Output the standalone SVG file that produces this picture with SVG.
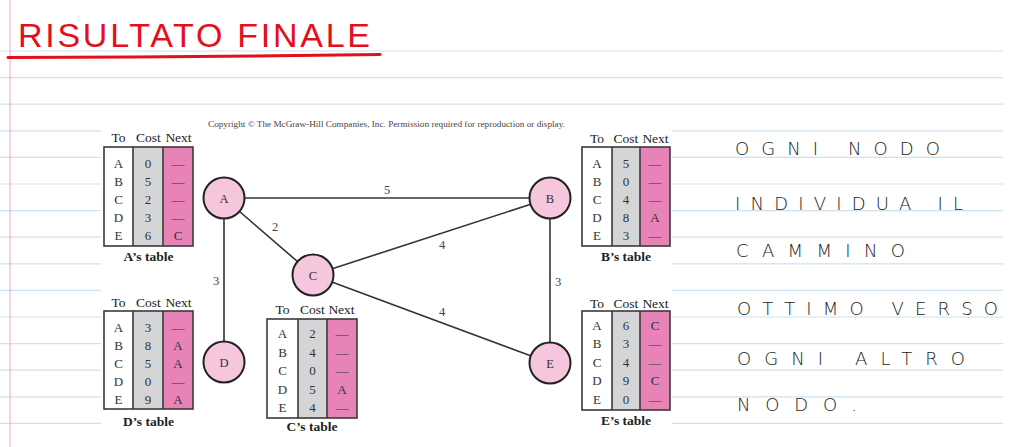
<svg xmlns="http://www.w3.org/2000/svg" width="1021" height="447" viewBox="0 0 1021 447">
<style>
.rule{stroke:#cfe1ee;stroke-width:1.2}
.margin{stroke:#eaa6c2;stroke-width:1}
.title{font-family:"Liberation Sans",Arial,sans-serif;font-size:34px;fill:#e3101c}
.hand{font-family:"DejaVu Sans","Liberation Sans",sans-serif;font-weight:200;font-size:18px;fill:#1a1a1a}
.copy{font-family:"Liberation Serif","Times New Roman",serif;font-size:7.5px;fill:#444}
.edge{stroke:#333;stroke-width:1.6;fill:none}
.elbl{font-family:"Liberation Serif","Times New Roman",serif;font-size:12.5px;fill:#444;text-anchor:middle}
.node{fill:#f6c6dd;stroke:#222;stroke-width:2}
.nlbl{font-family:"Liberation Serif","Times New Roman",serif;font-size:12.5px;fill:#333;text-anchor:middle}
.cTo{fill:#ffffff}
.cCost{fill:#d5d5d7}
.cNext{fill:#e883b8}
.tbox{fill:none;stroke:#3a3a3a;stroke-width:1.6}
.hdr{font-family:"Liberation Serif","Times New Roman",serif;font-size:13.5px;fill:#222;text-anchor:middle}
.cell{font-family:"Liberation Serif","Times New Roman",serif;font-size:13px;fill:#333;text-anchor:middle}
.tlbl{font-family:"Liberation Serif","Times New Roman",serif;font-size:13.5px;font-weight:bold;fill:#222;text-anchor:middle}
</style>
<rect x="0" y="0" width="1021" height="447" fill="#ffffff"/>
<g id="paper">
<line class="rule" x1="0" y1="51" x2="1003" y2="51"/>
<line class="rule" x1="0" y1="77.6" x2="1003" y2="77.6"/>
<line class="rule" x1="0" y1="104.2" x2="1003" y2="104.2"/>
<line class="rule" x1="0" y1="130.8" x2="1003" y2="130.8"/>
<line class="rule" x1="0" y1="157.4" x2="1003" y2="157.4"/>
<line class="rule" x1="0" y1="184" x2="1003" y2="184"/>
<line class="rule" x1="0" y1="210.6" x2="1003" y2="210.6"/>
<line class="rule" x1="0" y1="237.2" x2="1003" y2="237.2"/>
<line class="rule" x1="0" y1="263.8" x2="1003" y2="263.8"/>
<line class="rule" x1="0" y1="290.4" x2="1003" y2="290.4"/>
<line class="rule" x1="0" y1="317" x2="1003" y2="317"/>
<line class="rule" x1="0" y1="343.6" x2="1003" y2="343.6"/>
<line class="rule" x1="0" y1="370.2" x2="1003" y2="370.2"/>
<line class="rule" x1="0" y1="396.8" x2="1003" y2="396.8"/>
<line class="rule" x1="0" y1="423.4" x2="1003" y2="423.4"/>
<line class="margin" x1="10" y1="0" x2="10" y2="447"/>
<rect x="101" y="108" width="571" height="339" fill="#ffffff"/>
</g>
<g id="title">
<text class="title" x="18" y="46.5" textLength="352" lengthAdjust="spacing">RISULTATO FINALE</text>
<path d="M8 57.5 Q 200 57 380 54.5" stroke="#e3101c" stroke-width="3" fill="none" stroke-linecap="round"/>
</g>
<g id="notes">
<text class="hand" x="735" y="155" textLength="205" lengthAdjust="spacing">OGNI NODO</text>
<text class="hand" x="735" y="209.5" textLength="228" lengthAdjust="spacing">INDIVIDUA IL</text>
<text class="hand" x="736" y="257" textLength="169" lengthAdjust="spacing">CAMMINO</text>
<text class="hand" x="737" y="315" textLength="261" lengthAdjust="spacing">OTTIMO VERSO</text>
<text class="hand" x="737" y="365" textLength="228" lengthAdjust="spacing">OGNI ALTRO</text>
<text class="hand" x="737" y="411" textLength="120" lengthAdjust="spacing">NODO.</text>
</g>
<text class="copy" x="208" y="127" textLength="357" lengthAdjust="spacingAndGlyphs">Copyright © The McGraw-Hill Companies, Inc. Permission required for reproduction or display.</text>
<g id="connectors">
<line class="edge" x1="224" y1="198" x2="550" y2="198"/>
<line class="edge" x1="224" y1="198" x2="313" y2="275"/>
<line class="edge" x1="224" y1="198" x2="224" y2="362"/>
<line class="edge" x1="313" y1="275" x2="550" y2="198"/>
<line class="edge" x1="313" y1="275" x2="550" y2="363"/>
<line class="edge" x1="550" y1="198" x2="550" y2="363"/>
<text class="elbl" x="387" y="194">5</text>
<text class="elbl" x="275" y="231">2</text>
<text class="elbl" x="216" y="285">3</text>
<text class="elbl" x="558" y="286">3</text>
<text class="elbl" x="442" y="249">4</text>
<text class="elbl" x="442" y="316">4</text>
</g>
<g id="node-A"><circle class="node" cx="224" cy="198" r="20.5"/><text class="nlbl" x="224" y="202.5">A</text></g>
<g id="node-B"><circle class="node" cx="550" cy="198" r="20.5"/><text class="nlbl" x="550" y="202.5">B</text></g>
<g id="node-C"><circle class="node" cx="313" cy="275" r="20.5"/><text class="nlbl" x="313" y="279.5">C</text></g>
<g id="node-D"><circle class="node" cx="224" cy="362" r="20.5"/><text class="nlbl" x="224" y="366.5">D</text></g>
<g id="node-E"><circle class="node" cx="550" cy="363" r="20.5"/><text class="nlbl" x="550" y="367.5">E</text></g>
<g id="table-A">
<rect class="cTo" x="104" y="147" width="29" height="99"/>
<rect class="cCost" x="133" y="147" width="30" height="99"/>
<rect class="cNext" x="163" y="147" width="30" height="99"/>
<rect class="tbox" x="104" y="147" width="89" height="99"/>
<line class="tbox" x1="133" y1="147" x2="133" y2="246"/>
<line class="tbox" x1="163" y1="147" x2="163" y2="246"/>
<text class="hdr" x="118.5" y="142">To</text><text class="hdr" x="148.5" y="142">Cost</text><text class="hdr" x="178.5" y="142">Next</text>
<text class="cell" x="118.5" y="167.5">A</text><text class="cell" x="148" y="167.5">0</text><text class="cell" x="178" y="167.5">—</text>
<text class="cell" x="118.5" y="185.7">B</text><text class="cell" x="148" y="185.7">5</text><text class="cell" x="178" y="185.7">—</text>
<text class="cell" x="118.5" y="203.9">C</text><text class="cell" x="148" y="203.9">2</text><text class="cell" x="178" y="203.9">—</text>
<text class="cell" x="118.5" y="222.1">D</text><text class="cell" x="148" y="222.1">3</text><text class="cell" x="178" y="222.1">—</text>
<text class="cell" x="118.5" y="240.3">E</text><text class="cell" x="148" y="240.3">6</text><text class="cell" x="178" y="240.3">C</text>
<text class="tlbl" x="148.5" y="261">A’s table</text>
</g>
<g id="table-B">
<rect class="cTo" x="582" y="147" width="30" height="99"/>
<rect class="cCost" x="612" y="147" width="28" height="99"/>
<rect class="cNext" x="640" y="147" width="30" height="99"/>
<rect class="tbox" x="582" y="147" width="88" height="99"/>
<line class="tbox" x1="612" y1="147" x2="612" y2="246"/>
<line class="tbox" x1="640" y1="147" x2="640" y2="246"/>
<text class="hdr" x="597" y="143">To</text><text class="hdr" x="626" y="143">Cost</text><text class="hdr" x="655.5" y="143">Next</text>
<text class="cell" x="597" y="167.5">A</text><text class="cell" x="626" y="167.5">5</text><text class="cell" x="655" y="167.5">—</text>
<text class="cell" x="597" y="185.7">B</text><text class="cell" x="626" y="185.7">0</text><text class="cell" x="655" y="185.7">—</text>
<text class="cell" x="597" y="203.9">C</text><text class="cell" x="626" y="203.9">4</text><text class="cell" x="655" y="203.9">—</text>
<text class="cell" x="597" y="222.1">D</text><text class="cell" x="626" y="222.1">8</text><text class="cell" x="655" y="222.1">A</text>
<text class="cell" x="597" y="240.3">E</text><text class="cell" x="626" y="240.3">3</text><text class="cell" x="655" y="240.3">—</text>
<text class="tlbl" x="626" y="261">B’s table</text>
</g>
<g id="table-D">
<rect class="cTo" x="104" y="311" width="29" height="98"/>
<rect class="cCost" x="133" y="311" width="30" height="98"/>
<rect class="cNext" x="163" y="311" width="30" height="98"/>
<rect class="tbox" x="104" y="311" width="89" height="98"/>
<line class="tbox" x1="133" y1="311" x2="133" y2="409"/>
<line class="tbox" x1="163" y1="311" x2="163" y2="409"/>
<text class="hdr" x="118.5" y="306.5">To</text><text class="hdr" x="148.5" y="306.5">Cost</text><text class="hdr" x="178.5" y="306.5">Next</text>
<text class="cell" x="118.5" y="331.5">A</text><text class="cell" x="148" y="331.5">3</text><text class="cell" x="178" y="331.5">—</text>
<text class="cell" x="118.5" y="349.7">B</text><text class="cell" x="148" y="349.7">8</text><text class="cell" x="178" y="349.7">A</text>
<text class="cell" x="118.5" y="367.9">C</text><text class="cell" x="148" y="367.9">5</text><text class="cell" x="178" y="367.9">A</text>
<text class="cell" x="118.5" y="386.1">D</text><text class="cell" x="148" y="386.1">0</text><text class="cell" x="178" y="386.1">—</text>
<text class="cell" x="118.5" y="404.3">E</text><text class="cell" x="148" y="404.3">9</text><text class="cell" x="178" y="404.3">A</text>
<text class="tlbl" x="148.5" y="425.5">D’s table</text>
</g>
<g id="table-C">
<rect class="cTo" x="267" y="319" width="31" height="99"/>
<rect class="cCost" x="298" y="319" width="29" height="99"/>
<rect class="cNext" x="327" y="319" width="30" height="99"/>
<rect class="tbox" x="267" y="319" width="90" height="99"/>
<line class="tbox" x1="298" y1="319" x2="298" y2="418"/>
<line class="tbox" x1="327" y1="319" x2="327" y2="418"/>
<text class="hdr" x="282.5" y="314">To</text><text class="hdr" x="312.5" y="314">Cost</text><text class="hdr" x="341.5" y="314">Next</text>
<text class="cell" x="282.5" y="338">A</text><text class="cell" x="312.5" y="338">2</text><text class="cell" x="342" y="338">—</text>
<text class="cell" x="282.5" y="356.5">B</text><text class="cell" x="312.5" y="356.5">4</text><text class="cell" x="342" y="356.5">—</text>
<text class="cell" x="282.5" y="375">C</text><text class="cell" x="312.5" y="375">0</text><text class="cell" x="342" y="375">—</text>
<text class="cell" x="282.5" y="393.5">D</text><text class="cell" x="312.5" y="393.5">5</text><text class="cell" x="342" y="393.5">A</text>
<text class="cell" x="282.5" y="412">E</text><text class="cell" x="312.5" y="412">4</text><text class="cell" x="342" y="412">—</text>
<text class="tlbl" x="312" y="431">C’s table</text>
</g>
<g id="table-E">
<rect class="cTo" x="582" y="311" width="30" height="99"/>
<rect class="cCost" x="612" y="311" width="28" height="99"/>
<rect class="cNext" x="640" y="311" width="30" height="99"/>
<rect class="tbox" x="582" y="311" width="88" height="99"/>
<line class="tbox" x1="612" y1="311" x2="612" y2="410"/>
<line class="tbox" x1="640" y1="311" x2="640" y2="410"/>
<text class="hdr" x="597" y="307.5">To</text><text class="hdr" x="626" y="307.5">Cost</text><text class="hdr" x="655.5" y="307.5">Next</text>
<text class="cell" x="597" y="329.5">A</text><text class="cell" x="626" y="329.5">6</text><text class="cell" x="655" y="329.5">C</text>
<text class="cell" x="597" y="348">B</text><text class="cell" x="626" y="348">3</text><text class="cell" x="655" y="348">—</text>
<text class="cell" x="597" y="366.5">C</text><text class="cell" x="626" y="366.5">4</text><text class="cell" x="655" y="366.5">—</text>
<text class="cell" x="597" y="385">D</text><text class="cell" x="626" y="385">9</text><text class="cell" x="655" y="385">C</text>
<text class="cell" x="597" y="403.5">E</text><text class="cell" x="626" y="403.5">0</text><text class="cell" x="655" y="403.5">—</text>
<text class="tlbl" x="626" y="424.5">E’s table</text>
</g>
</svg>
